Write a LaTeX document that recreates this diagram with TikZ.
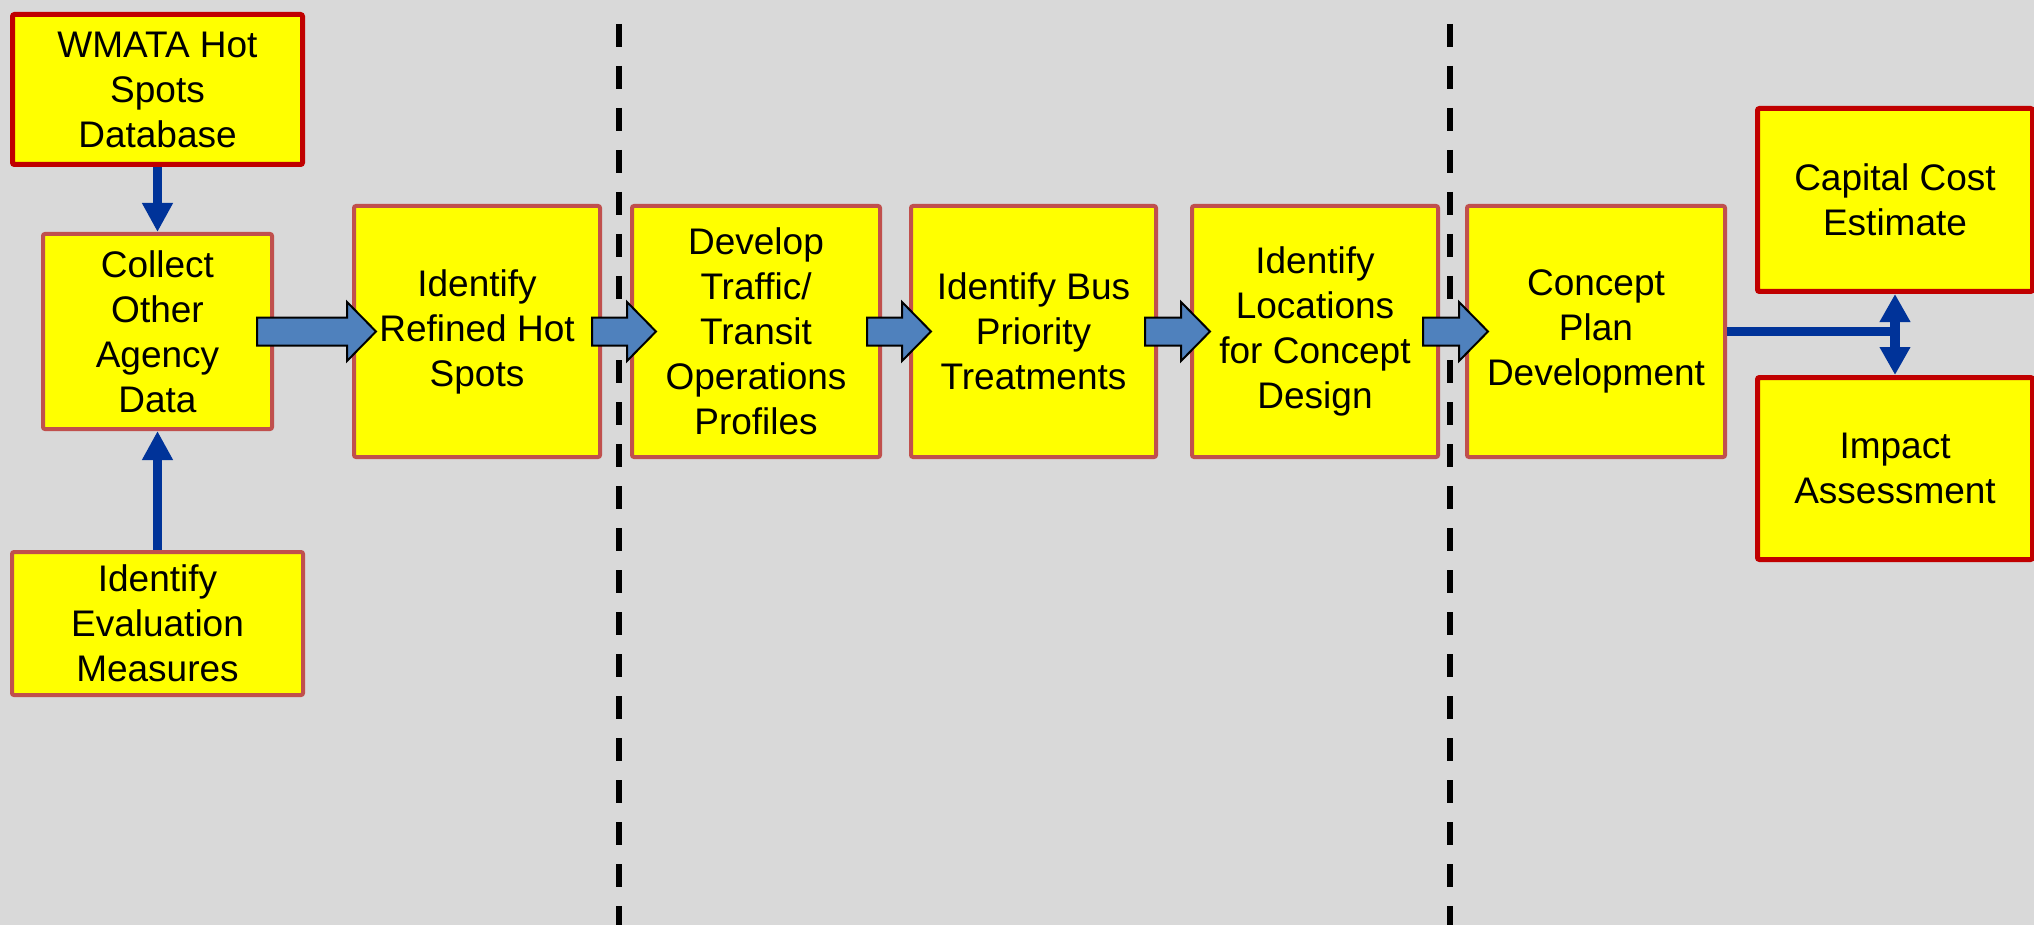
\documentclass[tikz,border=0pt]{standalone}
\usepackage{fontspec}
\setmainfont{Liberation Sans}
\usetikzlibrary{arrows.meta,calc}
\definecolor{bg}{HTML}{D9D9D9}
\definecolor{boxfill}{HTML}{FFFF00}
\definecolor{boxline}{HTML}{C0504D}
\definecolor{darkred}{HTML}{C00000}
\definecolor{connblue}{HTML}{003399}
\definecolor{arrfill}{HTML}{4F81BD}
\tikzset{
  box/.style={draw=boxline, line width=4pt, fill=boxfill, rounded corners=2pt, align=center,
    font=\fontsize{37}{45}\selectfont, inner sep=0pt, minimum height=251pt},
  redbox/.style={box, draw=darkred, line width=5pt},
  divider/.style={line width=6pt, dash pattern=on 23pt off 19pt},
  conn/.style={draw=connblue, line width=9.5pt},
  tipconn/.style={conn, -{Triangle[length=29pt,width=29pt]}},
  dblconn/.style={conn, {Triangle[length=28pt,width=29pt]}-{Triangle[length=28pt,width=29pt]}},
  blockarr/.style={draw=black, line width=2pt, fill=arrfill, line join=miter},
}
\newcommand\blockarrow[4]{%
  \path let \p1=(#1.east), \p2=(#2.west) in
    coordinate (ba-s) at (\x1-#3pt,\y1)
    coordinate (ba-t) at (\x2+#4pt,\y1);
  \draw[blockarr] ($(ba-s)+(0,14)$) -- ($(ba-t)+(-29,14)$) -- ($(ba-t)+(-29,29.5)$) -- (ba-t)
    -- ($(ba-t)+(-29,-29.5)$) -- ($(ba-t)+(-29,-14)$) -- ($(ba-s)+(0,-14)$) -- cycle;}
\begin{document}
\begin{tikzpicture}[x=1pt,y=-1pt]
\fill[bg] (0,0) rectangle (2034,925);
\useasboundingbox (0,0) rectangle (2034,925);
\clip (0,0) rectangle (2034,925);
% dividers
\coordinate (d1t) at (619,24); \coordinate (d1b) at (619,930);
\coordinate (d2t) at (1450,24); \coordinate (d2b) at (1450,930);
\draw[divider] (d1t) -- (d1b);
\draw[divider] (d2t) -- (d2b);
% boxes
\node[redbox, minimum width=290pt, minimum height=150pt] (wmata) at (157.5,89.5) {WMATA Hot\\Spots\\Database};
\node[box, minimum width=229pt, minimum height=195pt] (collect) at (157.5,331.5) {Collect\\Other\\Agency\\Data};
\node[box, minimum width=291pt, minimum height=143pt] (eval) at (157.5,623.5) {Identify\\Evaluation\\Measures};
\node[box, minimum width=246pt] (refined) at (477,331.5) {Identify\\Refined Hot\\Spots};
\node[box, minimum width=248pt] (develop) at (756,331.5) {Develop\\Traffic/\\Transit\\Operations\\Profiles};
\node[box, minimum width=245pt] (bus) at (1033.5,331.5) {Identify Bus\\Priority\\Treatments};
\node[box, minimum width=246pt] (loc) at (1315,331.5) {Identify\\Locations\\for Concept\\Design};
\node[box, minimum width=258pt] (concept) at (1596,331.5) {Concept\\Plan\\Development};
\node[redbox, minimum width=275pt, minimum height=183pt] (capital) at (1895,200) {Capital Cost\\Estimate};
\node[redbox, minimum width=275pt, minimum height=182pt] (impact) at (1895,468.5) {Impact\\Assessment};
% blue connectors
\draw[tipconn] (wmata.south) -- (collect.north);
\draw[tipconn] (eval.north) -- (collect.south);
\coordinate (j) at (capital.south |- concept.east);
\draw[conn] (concept.east) -- ($(j)+(4,0)$);
\draw[dblconn] (capital.south) -- (impact.north);
% block arrows
\blockarrow{collect}{refined}{17}{24}
\blockarrow{refined}{develop}{10}{26}
\blockarrow{develop}{bus}{15}{22}
\blockarrow{bus}{loc}{13}{20}
\blockarrow{loc}{concept}{17}{23}
\end{tikzpicture}
\end{document}
